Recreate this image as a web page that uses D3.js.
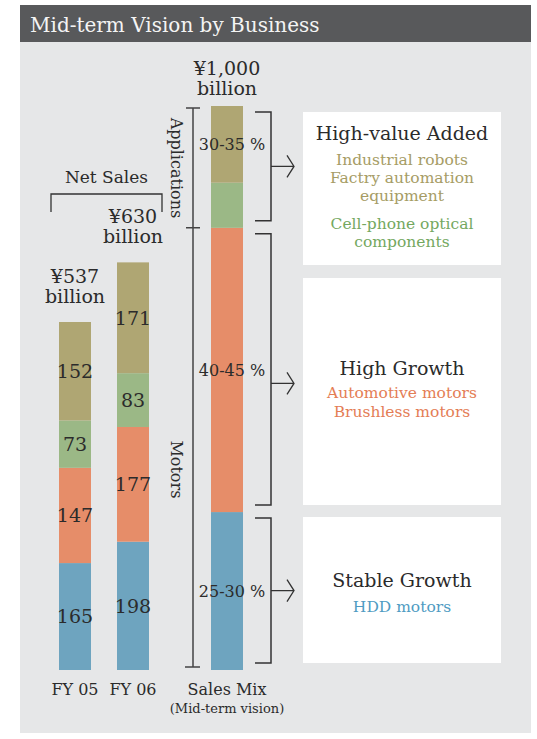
<!DOCTYPE html>
<html>
<head>
<meta charset="utf-8">
<script src="https://cdn.jsdelivr.net/npm/d3@7"></script>
<style>
  body { margin: 0; background: #fff; }
  svg text { font-family: "DejaVu Serif", serif; fill: #2b2b2b; }
</style>
</head>
<body>
<svg id="chart" width="537" height="739"></svg>
<script>
// segment order, bottom to top
const segments = ["HDD motors", "Other motors", "Optical", "Applications"]
const segColors = ["#6ea4bf", "#e68d69", "#9bb886", "#afa673"]
const textColors = ["#4f9bc2", "#e47d55", "#74a85f", "#a69c65"]

const categories = ["FY 05", "FY 06", "Sales Mix"]
const fy05 = [165, 147, 73, 152]
const fy06 = [198, 177, 83, 171]
const totalLabels = ["¥537", "¥630"]

// mid-term sales mix, share of bar height (%)
const mixShare = [28, 50.4, 8, 13.6]
const mixLabels = ["25-30 %", "40-45 %", null, "30-35 %"]

const boxTitles = ["Stable Growth", "High Growth", "High-value Added"]
const boxItems = [
  [["HDD motors", 0]],
  [["Automotive motors", 1], ["Brushless motors", 1]],
  [["Industrial robots", 3], ["Factry automation", 3], ["equipment", 3], ["Cell-phone optical", 2], ["components", 2]]
]

const svg = d3.select("#chart")

// panel + title bar
svg.append("rect").attr("x", 20).attr("y", 5).attr("width", 511).attr("height", 728).attr("fill", "#e6e7e8")
svg.append("rect").attr("x", 20).attr("y", 5).attr("width", 511).attr("height", 37).attr("fill", "#58595b")
svg.append("text").attr("x", 30).attr("y", 32).text("Mid-term Vision by Business")
  .style("font-size", "20px").style("fill", "#f4f4f4")

// scales
const yNet = d3.scaleLinear().domain([0, 537]).range([670, 322])
const yMix = d3.scaleLinear().domain([0, 100]).range([670, 106])
const x = d3.scaleOrdinal().domain(categories).range([59, 117, 211])
const bw = 32

function stackOf(vals) {
  let acc = 0
  return vals.map((v, i) => { const s = {i: i, v: v, y0: acc, y1: acc + v}; acc += v; return s })
}

// net sales bars
;[fy05, fy06].forEach((vals, k) => {
  const g = svg.append("g")
  const st = stackOf(vals)
  const cx = x(categories[k]) + bw / 2
  g.selectAll("rect").data(st).join("rect")
    .attr("x", x(categories[k])).attr("width", bw)
    .attr("y", d => yNet(d.y1)).attr("height", d => yNet(d.y0) - yNet(d.y1))
    .attr("fill", d => segColors[d.i])
  g.selectAll("text").data(st).join("text")
    .attr("x", cx).attr("y", d => yNet((d.y0 + d.y1) / 2)).attr("dy", "0.36em")
    .attr("text-anchor", "middle").style("font-size", "19px")
    .text(d => d.v)
  const top = yNet(d3.sum(vals))
  svg.append("text").attr("x", cx).attr("y", top - 39).attr("text-anchor", "middle").style("font-size", "19px").text(totalLabels[k])
  svg.append("text").attr("x", cx).attr("y", top - 19).attr("text-anchor", "middle").style("font-size", "19px").text("billion")
})

// net sales bracket
const bx0 = x("FY 05") - 8, bx1 = x("FY 06") + bw + 13
svg.append("path").attr("d", `M${bx0},212V194H${bx1}V212`).attr("fill", "none").attr("stroke", "#333").attr("stroke-width", 1.3)
svg.append("text").attr("x", (bx0 + bx1) / 2).attr("y", 183).attr("text-anchor", "middle").style("font-size", "17px").text("Net Sales")

// sales mix bar
const mix = stackOf(mixShare)
const mx = x("Sales Mix")
svg.append("g").selectAll("rect").data(mix).join("rect")
  .attr("x", mx).attr("width", bw)
  .attr("y", d => yMix(d.y1)).attr("height", d => yMix(d.y0) - yMix(d.y1))
  .attr("fill", d => segColors[d.i])
svg.append("g").selectAll("text").data(mix.filter(d => mixLabels[d.i])).join("text")
  .attr("x", mx + bw / 2 + 5).attr("y", d => yMix((d.y0 + d.y1) / 2)).attr("dy", "0.36em")
  .attr("text-anchor", "middle").style("font-size", "16px")
  .text(d => mixLabels[d.i])
svg.append("text").attr("x", mx + bw / 2).attr("y", yMix(100) - 31).attr("text-anchor", "middle").style("font-size", "19px").text("¥1,000")
svg.append("text").attr("x", mx + bw / 2).attr("y", yMix(100) - 11).attr("text-anchor", "middle").style("font-size", "19px").text("billion")

// left bracket: Applications / Motors
const lx = mx - 18
const yTop = yMix(100) + 2, yMid = yMix(mix[1].y1), yBot = yMix(0) - 3
svg.append("path").attr("d", `M${lx},${yTop}V${yBot}M${lx - 7},${yTop}H${lx + 7}M${lx - 7},${yMid}H${lx + 7}M${lx - 8},${yBot}H${lx + 7}`)
  .attr("fill", "none").attr("stroke", "#444").attr("stroke-width", 1.5)
svg.append("text").attr("transform", `translate(${lx - 16},${(yTop + yMid) / 2}) rotate(90)`)
  .attr("text-anchor", "middle").attr("dy", "0.36em").style("font-size", "16px").text("Applications")
svg.append("text").attr("transform", `translate(${lx - 16},${yMid + (yBot - yMid) * 0.55}) rotate(90)`)
  .attr("text-anchor", "middle").attr("dy", "0.36em").style("font-size", "16px").text("Motors")

// right brackets with arrows
const groups = [[mix[0].y0, mix[0].y1], [mix[1].y0, mix[1].y1], [mix[2].y0, mix[3].y1]]
const rx = mx + bw + 28
const arrowShift = [0, 14, 0]
groups.forEach((gr, k) => {
  const a = yMix(gr[1]) + 6, b = yMix(gr[0]) - 7
  svg.append("path").attr("d", `M${rx - 16},${a}H${rx}V${b}H${rx - 16}`)
    .attr("fill", "none").attr("stroke", "#333").attr("stroke-width", 1.5)
  const ay = (a + b) / 2 + arrowShift[k]
  svg.append("path").attr("d", `M${rx},${ay}H${rx + 23}M${rx + 16},${ay - 11}L${rx + 23},${ay}L${rx + 16},${ay + 11}`)
    .attr("fill", "none").attr("stroke", "#333").attr("stroke-width", 1.3)
})

// boxes
const boxes = [[517, 663], [278, 505], [112, 265]]
boxes.forEach(bb => {
  svg.append("rect").attr("x", 303).attr("y", bb[0]).attr("width", 198).attr("height", bb[1] - bb[0]).attr("fill", "#fff")
})
const bcx = 402
const boxText = [
  {title: 587, items: [612]},
  {title: 375, items: [398, 417]},
  {title: 140, items: [165, 183, 201, 229, 247]}
]
boxText.forEach((bt, k) => {
  svg.append("text").attr("x", bcx).attr("y", bt.title).attr("text-anchor", "middle").style("font-size", "19px").text(boxTitles[k])
  boxItems[k].forEach((it, j) => {
    svg.append("text").attr("x", bcx).attr("y", bt.items[j]).attr("text-anchor", "middle")
      .style("font-size", "15.5px").style("fill", textColors[it[1]]).text(it[0])
  })
})

// category labels
categories.forEach(c => {
  svg.append("text").attr("x", x(c) + bw / 2).attr("y", 695).attr("text-anchor", "middle").style("font-size", "16px").text(c)
})
svg.append("text").attr("x", mx + bw / 2).attr("y", 713).attr("text-anchor", "middle").style("font-size", "13px").text("(Mid-term vision)")
</script>
</body>
</html>
